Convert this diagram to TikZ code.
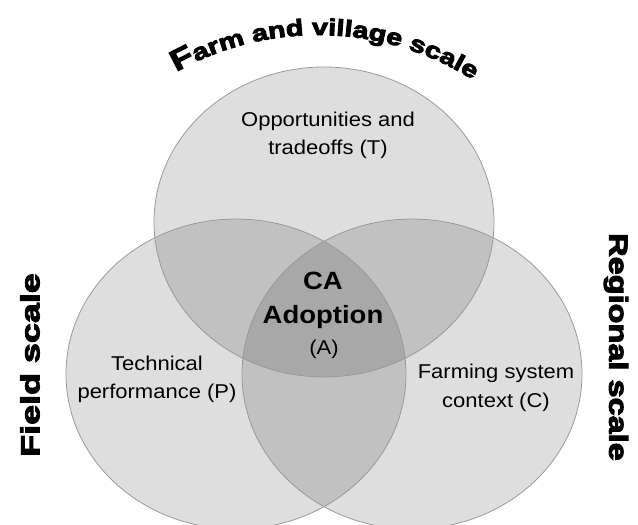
\documentclass[tikz,border=0pt]{standalone}
\usepackage{fontspec}
\setmainfont{Liberation Sans}[FakeStretch=1.1]
\newfontfamily\heavyfont{Liberation Sans}[FakeBold=4,FakeStretch=1.25]
\newfontfamily\heavywidefont{Liberation Sans}[FakeBold=4,FakeStretch=1.38]
\usetikzlibrary{decorations.text}

\tikzset{
  venn/.style={fill=black, fill opacity=0.13},
  vennline/.style={draw=black!40, line width=0.8pt},
  scalelabel/.style={font=\heavyfont\bfseries\fontsize{26}{30}\selectfont},
  core/.style={font=\bfseries\fontsize{25}{30}\selectfont}
}

\begin{document}
\begin{tikzpicture}[x=1pt, y=1pt, every node/.style={font=\fontsize{20}{28}\selectfont, align=center}]
\useasboundingbox (0,0) rectangle (638,525);
\clip (0,0) rectangle (638,525);
% the three circles (slightly wider than high, as in the figure)
\foreach \cx/\cy in {324/303, 236/151, 412/151}
  \fill[venn] (\cx,\cy) ellipse [x radius=170, y radius=155];
\foreach \cx/\cy in {324/303, 236/151, 412/151}
  \draw[vennline] (\cx,\cy) ellipse [x radius=170, y radius=155];
% circle labels
\node (trade) at (328,390) {Opportunities and\\tradeoffs (T)};
\node (perf) at (157,146) {Technical\\performance (P)};
\node[font=\fontsize{20}{29}\selectfont] (context) at (496,137) {Farming system\\context (C)};
% centre
\node[core, anchor=base] (ca) at (323,235) {CA};
\node[core, anchor=base] (adopt) at (323,201) {Adoption};
\node[anchor=base] (aa) at (324,170) {(A)};
% scales
\node[scalelabel, font=\heavywidefont\bfseries\fontsize{26}{30}\selectfont, rotate=90] (field) at (30,160) {Field scale};
\node[scalelabel, rotate=-90] (regional) at (616,178) {Regional scale};
\path[decorate, decoration={text along path, text align=center,
    text={|\heavyfont\bfseries\fontsize{29}{30}\selectfont|F|\heavyfont\bfseries\fontsize{23}{26}\selectfont|arm and village scale}}]
  (318,200) ++(126:290) arc[start angle=126, end angle=51, radius=290];
\end{tikzpicture}
\end{document}
